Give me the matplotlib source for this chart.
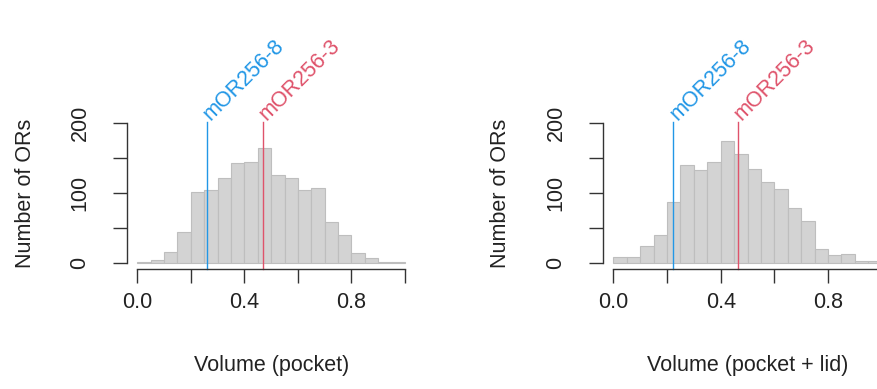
import numpy as np
import matplotlib
matplotlib.use("Agg")
from matplotlib import pyplot as plt

plt.rcParams['font.family'] = ['Liberation Sans', 'DejaVu Sans']

# bin edges shared by both histograms (20 bins of width 0.05)
bin_edges = np.round(np.arange(0, 1.0001, 0.05), 2)

# counts
pocket_counts = [2, 5, 16, 45, 102, 104, 121, 143, 145, 164,
                 126, 122, 105, 107, 59, 40, 14, 7, 2, 2]
lid_counts = [8, 8, 25, 40, 87, 140, 133, 144, 175, 156,
              135, 116, 106, 78, 60, 20, 11, 13, 3, 3]

# marked receptors
or_names = ['mOR256-8', 'mOR256-3']
or_colors = ['#2297E6', '#DF536B']
pocket_marks = [0.261, 0.468]
lid_marks = [0.224, 0.464]

x_ticks = [0.0, 0.2, 0.4, 0.6, 0.8, 1.0]
x_ticklabels = ['0.0', '', '0.4', '', '0.8', '']
y_ticks = [0, 50, 100, 150, 200]
y_ticklabels = ['0', '', '100', '', '200']

W, H = 877, 389
FS = 15.5
fig = plt.figure(figsize=(W / 100, H / 100), dpi=100)


def draw_panel(rect, counts, marks, xlabel):
    ax = fig.add_axes(rect)
    ax.bar(bin_edges[:-1], counts, width=0.05, align='edge',
           color='#D3D3D3', edgecolor='#BEBEBE', linewidth=0.8)
    ax.set_xlim(-0.04, 1.04)
    ax.set_ylim(-8, 208)
    for side in ['top', 'right']:
        ax.spines[side].set_visible(False)
    ax.spines['left'].set_bounds(0, 200)
    ax.spines['bottom'].set_bounds(0, 1)
    for side in ['left', 'bottom']:
        ax.spines[side].set_linewidth(1.0)
        ax.spines[side].set_color('#333333')
    ax.set_xticks(x_ticks)
    ax.set_xticklabels(x_ticklabels)
    ax.set_yticks(y_ticks)
    ax.set_yticklabels(y_ticklabels, rotation=90, va='center')
    ax.tick_params(length=10, width=1.0, color='#333333', labelsize=FS,
                   labelcolor='#222222')
    ax.tick_params(axis='x', pad=7)
    ax.tick_params(axis='y', pad=16)
    ax.set_xlabel(xlabel, fontsize=FS, color='#222222', va='center')
    ax.xaxis.set_label_coords(0.5, (268.6 - 366) / 151.2)
    ax.set_ylabel('Number of ORs', fontsize=FS, color='#222222', va='center')
    ax.yaxis.set_label_coords((25 - 126.6) / 289.1, 0.5)
    for name, col, m in zip(or_names, or_colors, marks):
        ax.plot([m, m], [-8, 201], color=col, linewidth=1.0, clip_on=False)
        ax.text(m, 209, name, color=col, fontsize=FS, rotation=45,
                rotation_mode='anchor', ha='left', va='center', clip_on=False)
    return ax


draw_panel([126.6 / W, 1 - 268.6 / H, 289.1 / W, 151.2 / H],
           pocket_counts, pocket_marks, 'Volume (pocket)')
draw_panel([602.6 / W, 1 - 268.6 / H, 289.9 / W, 151.2 / H],
           lid_counts, lid_marks, 'Volume (pocket + lid)')

fig.savefig('out.png', dpi=100)
